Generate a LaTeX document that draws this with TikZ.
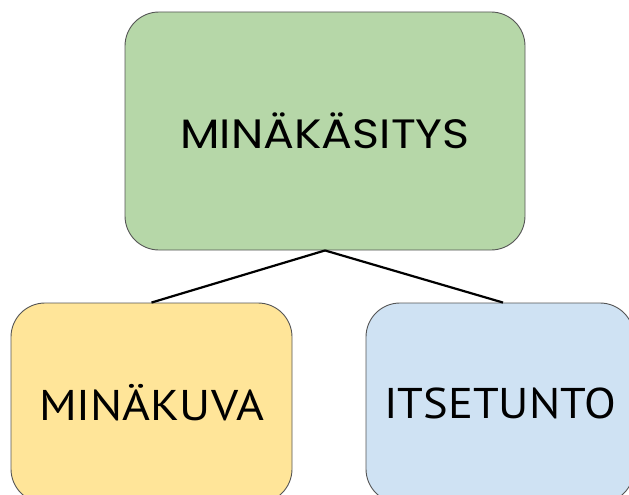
\documentclass[tikz,border=0pt]{standalone}
\usepackage{fontspec}
\setmainfont{Poppins}
\newfontfamily\bottomfont{PT Sans}
\definecolor{greenbox}{HTML}{B6D7A8}
\definecolor{yellowbox}{HTML}{FFE599}
\definecolor{bluebox}{HTML}{CFE2F3}
\definecolor{boxline}{HTML}{555555}
\begin{document}
\begin{tikzpicture}[x=1pt,y=-1pt,
  box/.style={draw=boxline,line width=0.9pt,rounded corners=34pt,inner sep=0pt},
  link/.style={draw=black,line width=2.2pt}]
\useasboundingbox (0,0) rectangle (629,495);
\clip (0,0) rectangle (629,495);
\node[box,fill=greenbox,minimum width=400pt,minimum height=238pt,
  font=\fontsize{41}{41}\selectfont] (top) at (325,131) {\scalebox{1.12}[1]{MINÄKÄSITYS}};
\node[box,fill=yellowbox,minimum width=281pt,minimum height=200pt,
  font=\bottomfont\fontsize{43}{43}\selectfont] (left) at (151.5,403) {\scalebox{1.11}[1]{MINÄKUVA}};
\node[box,fill=bluebox,minimum width=268pt,minimum height=200pt,
  font=\bottomfont\fontsize{43}{43}\selectfont] (right) at (500,403) {\scalebox{1.08}[1]{ITSETUNTO}};
\draw[link] (top.south) -- (left.north);
\draw[link] (top.south) -- ([xshift=3pt]right.north);
\end{tikzpicture}
\end{document}
